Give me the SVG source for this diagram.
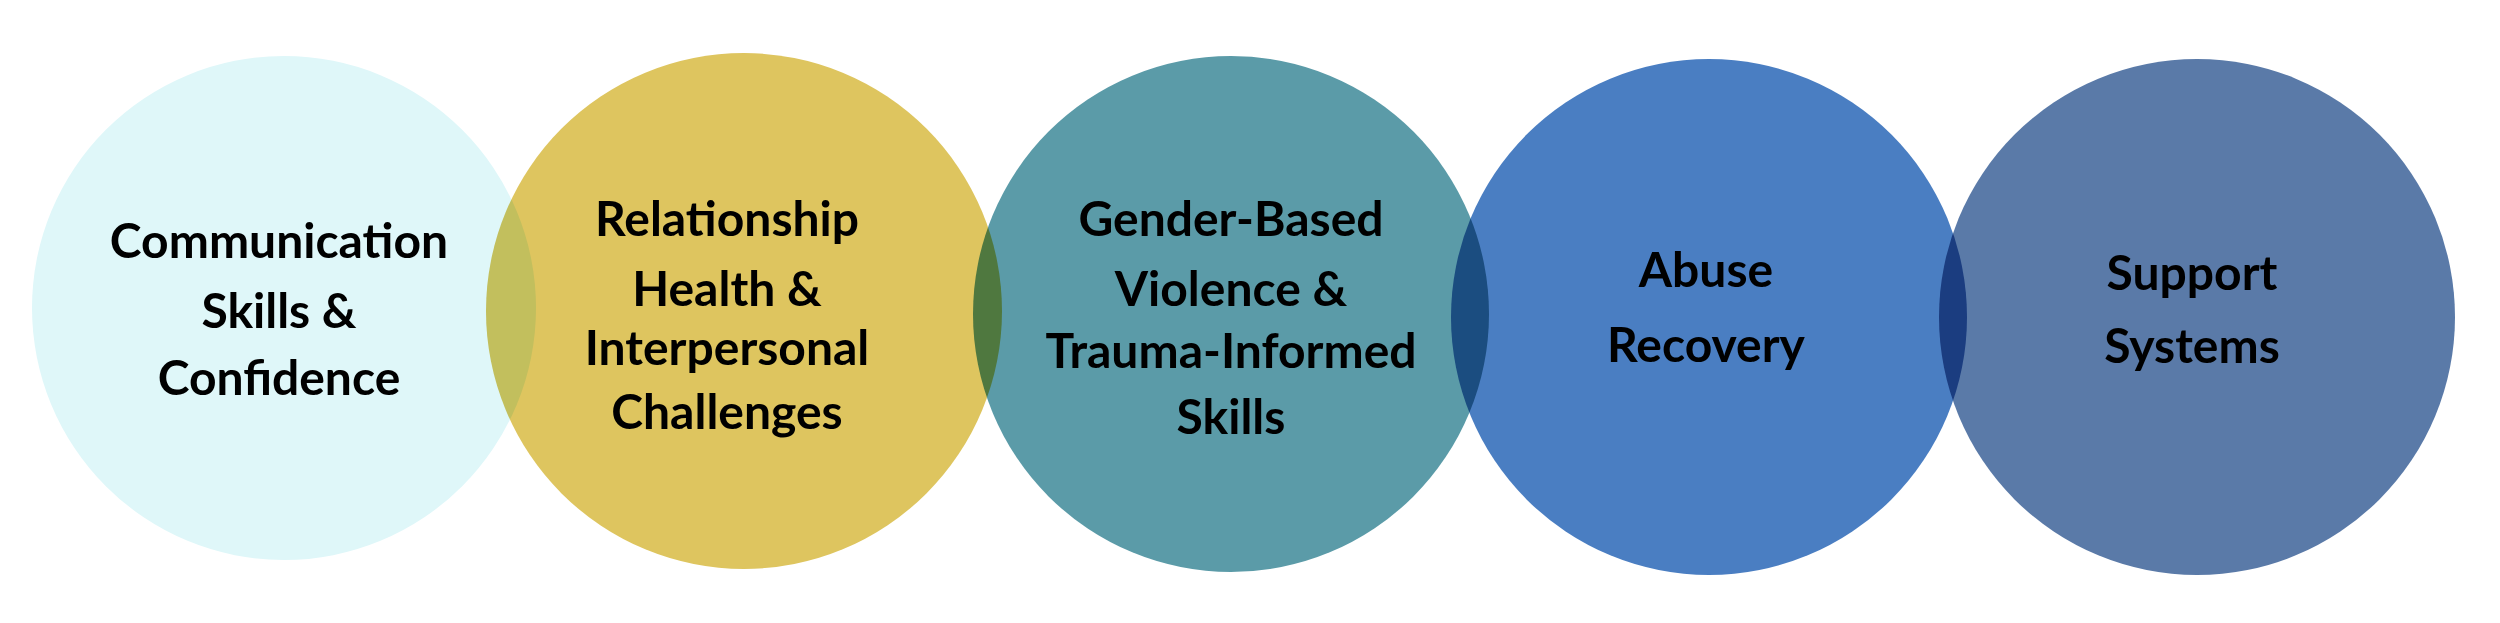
<svg xmlns="http://www.w3.org/2000/svg" width="2500" height="623" viewBox="0 0 2500 623">
<style>
.c{mix-blend-mode:multiply}
text{font-family:Lato,"Open Sans",sans-serif;font-weight:bold;font-size:48px;fill:#000;text-anchor:middle}
</style>
<rect width="2500" height="623" fill="#fff"/>
<g id="n1"><circle class="c" cx="284" cy="308" r="252" fill="#dff7f9"/></g>
<g id="n2"><circle class="c" cx="744" cy="311" r="258" fill="#dec55f"/></g>
<g id="n3"><circle class="c" cx="1231" cy="314" r="258" fill="#5b9ba8"/></g>
<g id="n4"><circle class="c" cx="1709" cy="317" r="258" fill="#4a7ec2"/></g>
<g id="n5"><circle class="c" cx="2197" cy="317" r="258" fill="#5a7aa8"/></g>
<g id="t1"><text x="279" y="258">Communication</text><text x="279" y="328">Skills &amp;</text><text x="279" y="395">Confidence</text></g>
<g id="t2"><text x="727" y="236">Relationship</text><text x="727" y="306">Health &amp;</text><text x="727" y="365">Interpersonal</text><text x="727" y="429">Challenges</text></g>
<g id="t3"><text x="1231" y="236">Gender-Based</text><text x="1231" y="306">Violence &amp;</text><text x="1231" y="368">Trauma-Informed</text><text x="1231" y="434">Skills</text></g>
<g id="t4"><text x="1706" y="287">Abuse</text><text x="1706" y="362">Recovery</text></g>
<g id="t5"><text x="2192" y="290">Support</text><text x="2192" y="363">Systems</text></g>
<g id="connectors"/>
</svg>
